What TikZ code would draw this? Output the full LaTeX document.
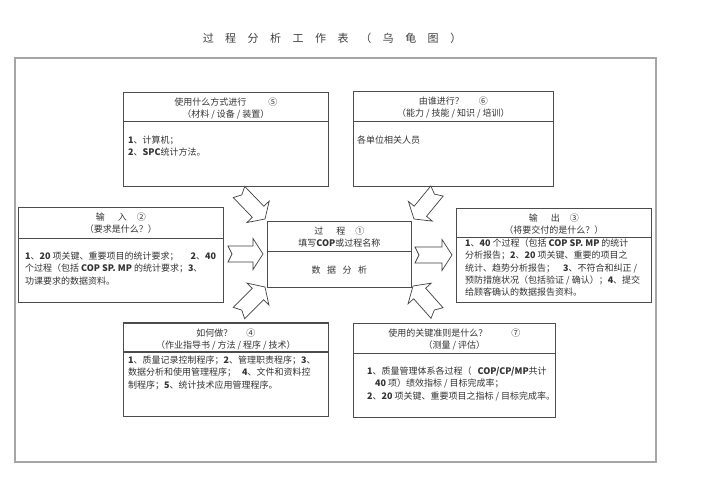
\documentclass[tikz,border=0pt]{standalone}
\usepackage{fontspec}
\setmainfont{Noto Sans CJK SC}
\usetikzlibrary{calc}
\newcommand{\tsp}{\hspace{11.5pt}}
\newcommand{\fatarrow}[2]{%
  \draw[fat] let \p1=($(#2)-(#1)$), \n1={atan2(\y1,\x1)}, \n2={veclen(\x1,\y1)} in
    [shift={(#1)},rotate=\n1]
    (0pt,-8pt) -- ({\n2-10pt},-8pt) -- ({\n2-10pt},-15.5pt) -- ({\n2+0pt},0pt)
    -- ({\n2-10pt},15.5pt) -- ({\n2-10pt},8pt) -- (0pt,8pt) -- (4pt,0pt) -- cycle;}

\begin{document}
\begin{tikzpicture}[x=1pt,y=-1pt,
    card/.style={draw=black!70,line width=0.8pt,anchor=north west,inner sep=0pt},
    sep/.style={draw=black!70,line width=0.8pt},
    head/.style={font=\fontsize{9}{12}\selectfont,text=black!80,align=center,inner sep=0pt},
    body/.style={font=\fontsize{9}{12.3}\selectfont,text=black!80,align=left,anchor=north west,inner sep=0pt},
    fat/.style={draw=black!75,fill=white,line width=0.7pt,line join=miter}]
    \useasboundingbox (0,0) rectangle (709,500);
    \fill[white] (0,0) rectangle (709,500);
    \node[font=\fontsize{11}{13}\selectfont,text=black!75] (title) at (332,38)
      {过\tsp 程\tsp 分\tsp 析\tsp 工\tsp 作\tsp 表\tsp （\tsp 乌\tsp 龟\tsp 图\tsp ）};
    \draw[gray!70,line width=1.2pt] (15,58) rectangle (656,462);
    \node[card,minimum width=205pt,minimum height=94pt] (tools) at (123,92) {};
    \node[card,minimum width=200pt,minimum height=95pt] (people) at (353,91) {};
    \node[card,minimum width=205pt,minimum height=95pt] (input) at (18,207) {};
    \node[card,minimum width=144pt,minimum height=66pt] (proc) at (267,221) {};
    \node[card,minimum width=195pt,minimum height=94pt] (output) at (456,208) {};
    \node[card,minimum width=205pt,minimum height=93pt] (how) at (123,323) {};
    \node[card,minimum width=202pt,minimum height=94pt] (crit) at (353,323) {};
    \draw[sep] ($(tools.north west)+(0,29)$) -- ($(tools.north east)+(0,29)$);
    \draw[sep] ($(people.north west)+(0,30)$) -- ($(people.north east)+(0,30)$);
    \draw[sep] ($(input.north west)+(0,31)$) -- ($(input.north east)+(0,31)$);
    \draw[sep] ($(proc.north west)+(0,30)$) -- ($(proc.north east)+(0,30)$);
    \draw[sep] ($(output.north west)+(0,29)$) -- ($(output.north east)+(0,29)$);
    \draw[sep,line width=1.3pt] ($(how.north west)+(0,29)$) -- ($(how.north east)+(0,29)$);
    \draw[sep,line width=1.3pt] (how.north west) -- (how.north east);
    \draw[sep] ($(crit.north west)+(0,30)$) -- ($(crit.north east)+(0,30)$);
    \draw[sep,line width=1.3pt] (crit.south west) -- (crit.south east);
    \node[head] (tools-h) at ($(tools.north)+(0,16)$) {使用什么方式进行\hspace{22pt}⑤\\（材料 / 设备 / 装置）};
    \node[head] (people-h) at ($(people.north)+(0,16)$) {由谁进行？\hspace{15pt}⑥\\（能力 / 技能 / 知识 / 培训）};
    \node[head] (input-h) at ($(input.north)+(0,16)$) {输\hspace{13pt}入\hspace{10pt}②\\（要求是什么？）};
    \node[head] (proc-h) at ($(proc.north)+(0,16.5)$) {过\hspace{13pt}程\hspace{10pt}①\\填写\textbf{COP}或过程名称};
    \node[head] (output-h) at ($(output.north)+(0,16)$) {输\hspace{13pt}出\hspace{10pt}③\\（将要交付的是什么？）};
    \node[head] (how-h) at ($(how.north)+(0,16.5)$) {如何做？\hspace{14pt}④\\（作业指导书 / 方法 / 程序 / 技术）};
    \node[head] (crit-h) at ($(crit.north)+(0,16)$) {使用的关键准则是什么？\hspace{24pt}⑦\\（测量 / 评估）};
    \node[body] (tools-b) at (128,135.7) {\textbf{1}、计算机；\\\textbf{2}、\textbf{SPC}统计方法。};
    \node[body] (people-b) at (357,135.7) {各单位相关人员};
    \node[body] (input-b) at (25,251.7) {\textbf{1}、\textbf{20} 项关键、重要项目的统计要求；\hspace{12pt}\textbf{2}、\textbf{40}\\
      个过程（包括 \textbf{COP SP. MP} 的统计要求；\textbf{3}、\\功课要求的数据资料。};
    \node[head] (proc-b) at ($(proc.south)+(0,-18)$) {数\hspace{6.5pt}据\hspace{6.5pt}分\hspace{6.5pt}析};
    \node[body] (output-b) at (465,238.7) {\textbf{1}、\textbf{40} 个过程（包括 \textbf{COP SP. MP} 的统计\\
      分析报告；\textbf{2}、\textbf{20} 项关键、重要的项目之\\统计、趋势分析报告；\hspace{8pt}\textbf{3}、不符合和纠正 /\\
      预防措施状况（包括验证 / 确认）；\textbf{4}、提交\\给顾客确认的数据报告资料。};
    \node[body] (how-b) at (128,355.7) {\textbf{1}、质量记录控制程序；\textbf{2}、管理职责程序；\textbf{3}、\\
      数据分析和使用管理程序；\hspace{6pt}\textbf{4}、文件和资料控\\制程序；\textbf{5}、统计技术应用管理程序。};
    \node[body] (crit-b) at (367,366.7) {\textbf{1}、质量管理体系各过程（\hspace{6pt}\textbf{COP/CP/MP}共计\\
      \hspace{8pt}\textbf{40} 项）绩效指标 / 目标完成率；\\\textbf{2}、\textbf{20} 项关键、重要项目之指标 / 目标完成率。};
    \coordinate (tools-a) at (239,192);
    \coordinate (tools-z) at (265,219);
    \coordinate (people-a) at (437,191);
    \coordinate (people-z) at (414,219);
    \coordinate (input-a) at (228,254);
    \coordinate (input-z) at (263,254);
    \coordinate (output-a) at (415,255);
    \coordinate (output-z) at (452,255);
    \coordinate (how-a) at (239,313);
    \coordinate (how-z) at (265,287);
    \coordinate (crit-a) at (437,313);
    \coordinate (crit-z) at (413,286);
    \fatarrow{tools-a}{tools-z}
    \fatarrow{people-a}{people-z}
    \fatarrow{input-a}{input-z}
    \fatarrow{output-a}{output-z}
    \fatarrow{how-a}{how-z}
    \fatarrow{crit-a}{crit-z}
\end{tikzpicture}
\end{document}
